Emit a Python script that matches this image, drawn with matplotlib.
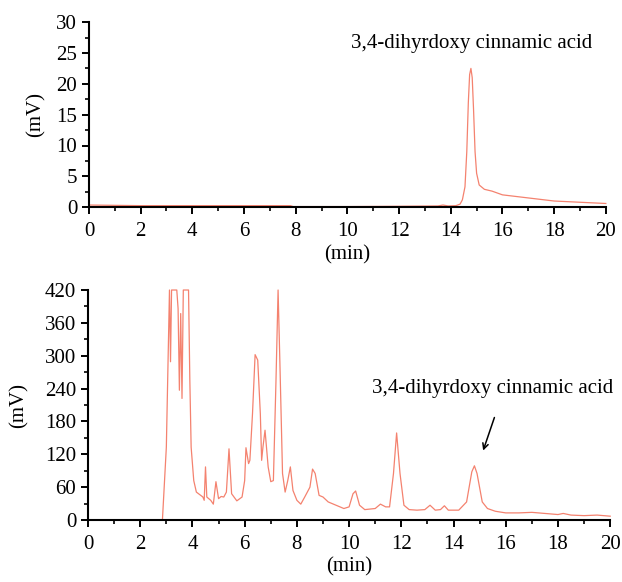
import matplotlib
matplotlib.use("Agg")
from matplotlib import pyplot as plt
from matplotlib.ticker import MultipleLocator

plt.rcParams['font.family'] = ['Liberation Serif', 'DejaVu Serif']

lineColor = "#f4826f"
baseColor = "#e83a2e"
label = "3,4-dihyrdoxy cinnamic acid"

# standard chromatogram (top)
stdTime = [0, 1.0, 2, 4, 6, 7.8, 7.9, 10, 12, 13.5, 13.7, 13.9, 14.2, 14.36, 14.45, 14.55,
           14.62, 14.68, 14.73, 14.78, 14.83, 14.88, 14.94, 15.0, 15.1, 15.3, 15.6, 16.0,
           17.0, 18.0, 19.0, 20.0]
stdSignal = [0.35, 0.3, 0.25, 0.25, 0.25, 0.25, 0.1, 0.1, 0.15, 0.2, 0.35, 0.2, 0.25, 0.5, 1.2, 3.3,
             9, 17, 21.5, 22.5, 21, 16, 9, 5.5, 3.6, 2.9, 2.6, 2.0,
             1.5, 1.0, 0.8, 0.6]

# sample chromatogram (bottom)
sampleTime = [0, 2.4, 2.85, 3.0, 3.12, 3.16, 3.2, 3.25, 3.4, 3.45, 3.5, 3.55, 3.6, 3.65, 3.85,
              3.9, 3.95, 4.05, 4.15, 4.4, 4.45, 4.5, 4.55, 4.7, 4.8, 4.9, 5.0, 5.1, 5.2, 5.3,
              5.4, 5.5, 5.7, 5.9, 6.0, 6.05, 6.15, 6.2, 6.3, 6.4, 6.5, 6.6, 6.65, 6.7, 6.78,
              6.9, 7.0, 7.1, 7.2, 7.28, 7.35, 7.45, 7.55, 7.65, 7.75, 7.85, 8.0, 8.15, 8.3, 8.5,
              8.6, 8.7, 8.85, 9.0, 9.2, 9.5, 9.8, 10.0, 10.15, 10.25, 10.4, 10.6, 11.0, 11.2,
              11.4, 11.55, 11.7, 11.82, 11.95, 12.1, 12.3, 12.6, 12.9, 13.1, 13.3, 13.5, 13.65,
              13.8, 14.2, 14.5, 14.7, 14.8, 14.9, 15.1, 15.3, 15.6, 16.0, 16.5, 17.0, 17.5,
              18.0, 18.2, 18.5, 19.0, 19.5, 20.0]
sampleSignal = [0, 0, 0, 133, 420, 289, 420, 420, 420, 386, 237, 377, 222, 420, 420,
                255, 133, 72, 51, 42, 36, 97, 42, 36, 29, 70, 39, 43, 42, 51,
                130, 48, 35, 42, 72, 132, 103, 109, 194, 302, 292, 194, 109, 133, 164,
                97, 70, 72, 255, 420, 286, 85, 51, 72, 97, 54, 36, 29, 42, 60,
                93, 85, 45, 42, 33, 27, 21, 24, 48, 53, 27, 19, 21, 29,
                24, 24, 85, 159, 85, 27, 19, 18, 19, 27, 18, 19, 26,
                18, 18, 33, 88, 99, 85, 33, 21, 16, 13, 13, 14, 12,
                10, 12, 9, 8, 9, 7]

fig = plt.figure(figsize=(6.22, 5.82), dpi=100)
ax1 = fig.add_axes([0.143, 0.644, 0.831, 0.318])
ax2 = fig.add_axes([0.1415, 0.1065, 0.8395, 0.3952])

ax1.plot(stdTime, stdSignal, color=lineColor, lw=0.9, clip_on=False)
ax1.set_xlim(0, 20)
ax1.set_ylim(0, 30)
ax1.xaxis.set_major_locator(MultipleLocator(2))
ax1.xaxis.set_minor_locator(MultipleLocator(1))
ax1.yaxis.set_major_locator(MultipleLocator(5))
ax1.yaxis.set_minor_locator(MultipleLocator(2.5))
ax1.set_xlabel("(min)", fontsize=15, labelpad=3)
ax1.set_ylabel("(mV)", fontsize=15, labelpad=8)
ax1.text(14.8, 26.6, label, fontsize=15, ha="center", va="center")

ax2.plot(sampleTime, sampleSignal, color=lineColor, lw=0.9, clip_on=False)
ax2.plot(sampleTime[:2], sampleSignal[:2], color=baseColor, lw=1.3, clip_on=False)
ax2.set_xlim(0, 20)
ax2.set_ylim(0, 420)
ax2.xaxis.set_major_locator(MultipleLocator(2))
ax2.xaxis.set_minor_locator(MultipleLocator(1))
ax2.yaxis.set_major_locator(MultipleLocator(60))
ax2.yaxis.set_minor_locator(MultipleLocator(30))
ax2.set_xlabel("(min)", fontsize=15, labelpad=2)
ax2.set_ylabel("(mV)", fontsize=15, labelpad=12)
ax2.text(15.5, 241, label, fontsize=15, ha="center", va="center")
ax2.annotate("", xy=(15.1, 122), xytext=(15.6, 192),
             arrowprops=dict(arrowstyle="->", color="black", lw=1.1))

for ax in (ax1, ax2):
    ax.spines["top"].set_visible(False)
    ax.spines["right"].set_visible(False)
    ax.spines["left"].set_linewidth(1.5)
    ax.spines["bottom"].set_linewidth(1.5)
    ax.tick_params(which="major", length=5, width=1.4, labelsize=15, direction="out")
    ax.tick_params(which="minor", length=3, width=1.2, direction="out")
    ax.tick_params(axis="x", which="major", pad=6)

fig.savefig("out.png", dpi=100)
